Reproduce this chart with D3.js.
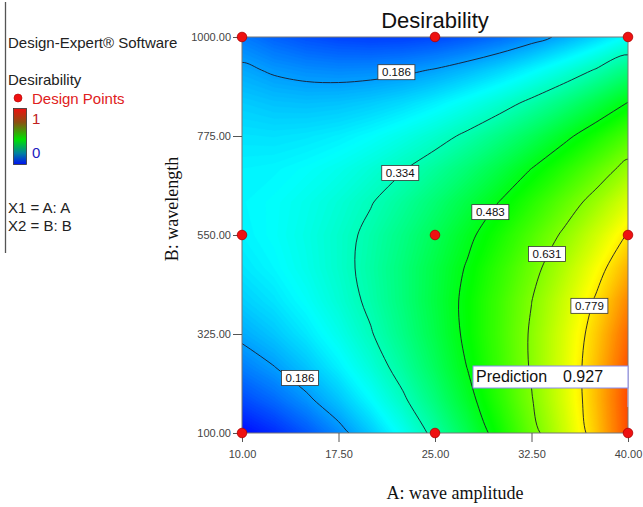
<!DOCTYPE html>
<html>
<head>
<meta charset="utf-8">
<script src="https://cdn.jsdelivr.net/npm/d3@7"></script>
<style>
  body { margin: 0; background: #fff; }
  svg { display: block; font-family: Arial, "Liberation Sans", sans-serif; }
  .tick-label { font-size: 11px; fill: #444; }
  .axis-title { font-family: "Liberation Serif", "Times New Roman", serif; font-size: 18px; fill: #111; }
  .legend-text { font-size: 15px; fill: #222; }
  .clabel { font-size: 11.5px; fill: #111; }
</style>
</head>
<body>
<div id="chart"></div>
<script>
// grid of A (wave amplitude) and B (wavelength)
const ampValues = [10, 12.5, 15, 17.5, 20, 22.5, 25, 27.5, 30, 32.5, 35, 37.5, 40];
const waveValues = [100, 175, 250, 325, 400, 475, 550, 625, 700, 775, 850, 925, 1000];

// desirability, one row per wavelength (bottom -> top)
const desirability = [
  [0.058, 0.087, 0.124, 0.169, 0.222, 0.282, 0.351, 0.427, 0.512, 0.604, 0.704, 0.812, 0.928],
  [0.113, 0.141, 0.176, 0.218, 0.268, 0.325, 0.389, 0.461, 0.540, 0.627, 0.720, 0.821, 0.930],
  [0.159, 0.185, 0.218, 0.258, 0.304, 0.357, 0.417, 0.484, 0.558, 0.638, 0.725, 0.820, 0.921],
  [0.197, 0.221, 0.251, 0.287, 0.330, 0.379, 0.434, 0.496, 0.564, 0.639, 0.720, 0.808, 0.902],
  [0.227, 0.247, 0.274, 0.307, 0.345, 0.390, 0.441, 0.498, 0.561, 0.630, 0.705, 0.786, 0.873],
  [0.248, 0.265, 0.288, 0.316, 0.351, 0.391, 0.437, 0.488, 0.546, 0.609, 0.678, 0.753, 0.833],
  [0.260, 0.273, 0.292, 0.316, 0.346, 0.381, 0.422, 0.469, 0.520, 0.578, 0.641, 0.710, 0.784],
  [0.264, 0.272, 0.287, 0.306, 0.331, 0.361, 0.397, 0.438, 0.484, 0.536, 0.594, 0.656, 0.724],
  [0.260, 0.263, 0.272, 0.286, 0.306, 0.331, 0.361, 0.396, 0.437, 0.484, 0.535, 0.592, 0.655],
  [0.246, 0.244, 0.248, 0.256, 0.270, 0.290, 0.314, 0.344, 0.380, 0.420, 0.467, 0.518, 0.575],
  [0.225, 0.217, 0.214, 0.217, 0.225, 0.238, 0.257, 0.282, 0.311, 0.347, 0.387, 0.433, 0.485],
  [0.195, 0.180, 0.171, 0.167, 0.169, 0.176, 0.189, 0.208, 0.232, 0.262, 0.297, 0.338, 0.385],
  [0.156, 0.134, 0.118, 0.108, 0.103, 0.104, 0.111, 0.124, 0.142, 0.167, 0.197, 0.232, 0.274]
];

const contourLevels = [0.186, 0.334, 0.483, 0.631, 0.779];
// where each contour label sits (A, B)
const labelText = ["0.186", "0.334", "0.483", "0.631", "0.779", "0.186"];
const labelA = [22.0, 22.3, 29.3, 33.7, 37.0, 14.5];
const labelB = [920, 691, 602, 507, 389, 225];

const designA = [10, 25, 40, 10, 25, 40, 10, 25, 40];
const designB = [100, 100, 100, 550, 550, 550, 1000, 1000, 1000];

const xTicks = [10, 17.5, 25, 32.5, 40];
const yTicks = [100, 325, 550, 775, 1000];

const prediction = { label: "Prediction", value: "0.927", a: 40, b: 100 };

const width = 643, height = 507;
const margin = { top: 37, right: 15, bottom: 74, left: 242 };
const plotW = width - margin.left - margin.right;
const plotH = height - margin.top - margin.bottom;

const svg = d3.select("#chart").append("svg")
  .attr("width", width)
  .attr("height", height);

const x = d3.scaleLinear().domain([10, 40]).range([0, plotW]);
const y = d3.scaleLinear().domain([100, 1000]).range([plotH, 0]);

const color = d3.scaleLinear()
  .domain([0.05, 0.27, 0.5, 0.76, 1.0])
  .range(["#0000ff", "#00ffff", "#00ff00", "#ffff00", "#ff0000"])
  .clamp(true);

const g = svg.append("g").attr("transform", `translate(${margin.left},${margin.top})`);

svg.append("defs").append("clipPath").attr("id", "plotClip")
  .append("rect").attr("x", 0).attr("y", 0).attr("width", plotW).attr("height", plotH);

// grid index -> pixel (d3.contours puts sample i at i + 0.5)
const nx = ampValues.length, ny = waveValues.length;
const gx = d3.scaleLinear().domain([0.5, nx - 0.5]).range([x(ampValues[0]), x(ampValues[nx - 1])]);
const gy = d3.scaleLinear().domain([0.5, ny - 0.5]).range([y(waveValues[0]), y(waveValues[ny - 1])]);
const path = d3.geoPath(d3.geoTransform({
  point: function (px, py) { this.stream.point(gx(px), gy(py)); }
}));

const flat = desirability.flat();
const step = 0.005;
const bandThresholds = d3.range(0, 1 + step / 2, step);

const surface = g.append("g").attr("clip-path", "url(#plotClip)");

// base fill then colour bands
surface.append("rect")
  .attr("width", plotW).attr("height", plotH)
  .attr("fill", color(d3.min(flat)));

surface.selectAll("path.band")
  .data(d3.contours().size([nx, ny]).thresholds(bandThresholds)(flat))
  .enter().append("path")
  .attr("class", "band")
  .attr("d", path)
  .attr("fill", d => color(d.value + step / 2))
  .attr("stroke", d => color(d.value + step / 2))
  .attr("stroke-width", 0.6);

// contour lines, rings smoothed with a closed Catmull-Rom curve
const ringLine = d3.line()
  .x(p => gx(p[0]))
  .y(p => gy(p[1]))
  .curve(d3.curveCatmullRomClosed.alpha(0.5));

function smoothPath(geo) {
  return geo.coordinates
    .map(poly => poly.map(ring => ringLine(ring.slice(0, -1))).join(""))
    .join("");
}

surface.selectAll("path.cline")
  .data(d3.contours().size([nx, ny]).thresholds(contourLevels)(flat))
  .enter().append("path")
  .attr("class", "cline")
  .attr("d", smoothPath)
  .attr("fill", "none")
  .attr("stroke", "#1a1a2a")
  .attr("stroke-width", 0.9);

// frame
g.append("rect")
  .attr("width", plotW).attr("height", plotH)
  .attr("fill", "none")
  .attr("stroke", "#777")
  .attr("stroke-width", 1);

// contour labels
const labels = g.selectAll("g.clab")
  .data(labelText.map((t, i) => ({ t, a: labelA[i], b: labelB[i] })))
  .enter().append("g")
  .attr("class", "clab")
  .attr("transform", d => `translate(${x(d.a)},${y(d.b)})`);

labels.append("rect")
  .attr("x", -18.5).attr("y", -7.5)
  .attr("width", 37).attr("height", 15)
  .attr("fill", "#fff")
  .attr("stroke", "#333")
  .attr("stroke-width", 0.8);

labels.append("text")
  .attr("class", "clabel")
  .attr("text-anchor", "middle")
  .attr("dy", "0.36em")
  .text(d => d.t);

// axes (ticks drawn by d3, domain hidden because the frame is drawn above)
const xAxis = g.append("g")
  .attr("transform", `translate(0,${plotH})`)
  .call(d3.axisBottom(x).tickValues(xTicks).tickSize(9).tickPadding(8).tickFormat(d3.format(".2f")));
const yAxis = g.append("g")
  .call(d3.axisLeft(y).tickValues(yTicks).tickSize(9).tickPadding(2).tickFormat(d3.format(".2f")));

[xAxis, yAxis].forEach(ax => {
  ax.select(".domain").remove();
  ax.selectAll(".tick line").attr("stroke", "#555");
  ax.selectAll(".tick text").attr("class", "tick-label").attr("font-family", null).attr("font-size", null).attr("fill", null);
});

// prediction flag
const px = x(prediction.a);
const pBoxTop = y(250) - 1;
const pBox = g.append("g");
pBox.append("line")
  .attr("x1", px).attr("x2", px)
  .attr("y1", pBoxTop + 22).attr("y2", y(prediction.b) - 26)
  .attr("stroke", "#b8bcf0")
  .attr("stroke-width", 1);
pBox.append("rect")
  .attr("x", px - 155).attr("y", pBoxTop)
  .attr("width", 155).attr("height", 22)
  .attr("fill", "#fff")
  .attr("stroke", "#8a8af0")
  .attr("stroke-width", 1);
pBox.append("text")
  .attr("x", px - 152).attr("y", pBoxTop + 16)
  .attr("font-size", 16).attr("fill", "#111")
  .text(prediction.label);
pBox.append("text")
  .attr("x", px - 65).attr("y", pBoxTop + 16)
  .attr("font-size", 16).attr("fill", "#111")
  .text(prediction.value);

// design points
g.selectAll("circle.dp")
  .data(designA.map((a, i) => ({ a, b: designB[i] })))
  .enter().append("circle")
  .attr("class", "dp")
  .attr("cx", d => x(d.a))
  .attr("cy", d => y(d.b))
  .attr("r", 4.8)
  .attr("fill", "#ee1111")
  .attr("stroke", "#b00000")
  .attr("stroke-width", 0.8);

// titles
svg.append("text")
  .attr("x", margin.left + plotW / 2).attr("y", 28)
  .attr("text-anchor", "middle")
  .attr("font-size", 22).attr("fill", "#111")
  .text("Desirability");

svg.append("text")
  .attr("class", "axis-title")
  .attr("x", 455).attr("y", 499)
  .attr("text-anchor", "middle")
  .text("A: wave amplitude");

svg.append("text")
  .attr("class", "axis-title")
  .attr("transform", "translate(178,209) rotate(-90)")
  .attr("text-anchor", "middle")
  .text("B: wavelength");

// LEFT INFO PANEL
svg.append("line")
  .attr("x1", 5.5).attr("x2", 5.5).attr("y1", 2).attr("y2", 253)
  .attr("stroke", "#555").attr("stroke-width", 1.3);

svg.append("text").attr("class", "legend-text").attr("x", 8).attr("y", 48).text("Design-Expert® Software");
svg.append("text").attr("class", "legend-text").attr("x", 8).attr("y", 85).text("Desirability");

svg.append("circle").attr("cx", 18).attr("cy", 98).attr("r", 4)
  .attr("fill", "#ee1111").attr("stroke", "#b00000").attr("stroke-width", 0.6);
svg.append("text").attr("class", "legend-text").attr("x", 32).attr("y", 104)
  .style("fill", "#e02020").text("Design Points");

const grad = svg.select("defs").append("linearGradient")
  .attr("id", "legendGrad").attr("x1", 0).attr("y1", 0).attr("x2", 0).attr("y2", 1);
[["0%", "#ee1010"], ["25%", "#8a5010"], ["55%", "#00e000"], ["80%", "#0080a0"], ["100%", "#0010f0"]]
  .forEach(s => grad.append("stop").attr("offset", s[0]).attr("stop-color", s[1]));

svg.append("rect")
  .attr("x", 13.5).attr("y", 108.5).attr("width", 13).attr("height", 56)
  .attr("fill", "url(#legendGrad)")
  .attr("stroke", "#333").attr("stroke-width", 0.8);

svg.append("text").attr("class", "legend-text").attr("x", 32).attr("y", 124)
  .style("fill", "#c02020").text("1");
svg.append("text").attr("class", "legend-text").attr("x", 32).attr("y", 158)
  .style("fill", "#2020c0").text("0");

svg.append("text").attr("class", "legend-text").attr("x", 8).attr("y", 213).text("X1 = A: A");
svg.append("text").attr("class", "legend-text").attr("x", 8).attr("y", 231).text("X2 = B: B");
</script>
</body>
</html>
